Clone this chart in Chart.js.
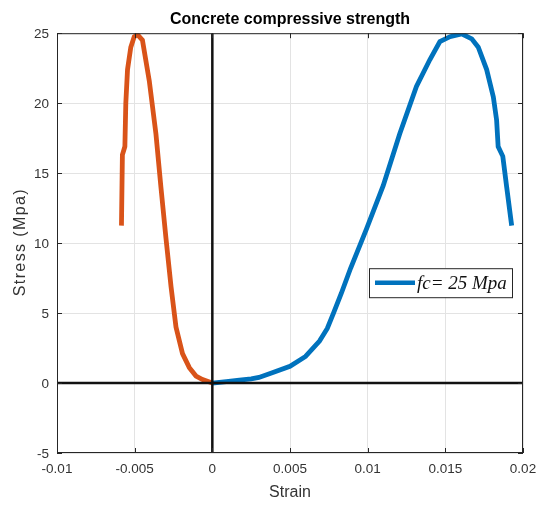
<!DOCTYPE html>
<html>
<head>
<meta charset="utf-8">
<script src="https://cdn.jsdelivr.net/npm/chart.js@4.4.0/dist/chart.umd.min.js"></script>
<style>
  body { margin: 0; background: #fff; }
  #wrap { width: 547px; height: 508px; }
</style>
</head>
<body>
<div id="wrap"><canvas id="stress" width="547" height="508"></canvas></div>
<script>
// tension side (orange)
const strainT = [-0.00585, -0.00579, -0.00563, -0.00557, -0.00546, -0.00525, -0.00503, -0.00482, -0.0045,
                 -0.00406, -0.00363, -0.00331, -0.00299, -0.00266, -0.00234, -0.00192, -0.00148, -0.00105, -0.00063, 0];
const stressT = [11.25, 16.3, 16.9, 20.0, 22.4, 24.0, 24.75, 24.9, 24.5,
                 21.6, 17.8, 14.0, 10.4, 6.9, 4.0, 2.1, 1.1, 0.5, 0.25, 0];

// compression side (blue)
const strainC = [0, 0.0009, 0.00174, 0.0025, 0.003, 0.0039, 0.005, 0.006, 0.0069, 0.0074, 0.0078, 0.0083,
                 0.0089, 0.00992, 0.011, 0.01206, 0.01314, 0.014, 0.01465, 0.0153, 0.01605, 0.0167,
                 0.01712, 0.01766, 0.01809, 0.0183, 0.0184, 0.0187, 0.01895, 0.01927];
const stressC = [0, 0.1, 0.2, 0.3, 0.4, 0.75, 1.2, 1.9, 3.0, 3.9, 5.0, 6.4,
                 8.2, 11.0, 14.1, 17.8, 21.2, 23.1, 24.4, 24.75, 24.95, 24.6,
                 24.0, 22.4, 20.45, 18.8, 16.9, 16.2, 14.0, 11.25];

const zeroLineX = [-0.01, 0.02];
const zeroLineY = [-5, 25];
const xTicks = [-0.01, -0.005, 0, 0.005, 0.01, 0.015, 0.02];
const yTicks = [-5, 0, 5, 10, 15, 20, 25];

const pts = (xs, ys) => xs.map((x, i) => ({ x: x, y: ys[i] }));

const tickColor = '#333';
const sans = '"Liberation Sans", Arial, sans-serif';
const tickFont = { family: sans, size: 13.5 };

// center the title over the plot area, not the whole canvas
const titlePlugin = {
    id: 'titleOverPlot',
    afterLayout(chart) {
        if (chart.titleBlock) {
            chart.titleBlock.left = chart.chartArea.left;
            chart.titleBlock.right = chart.chartArea.right;
        }
    }
};

// MATLAB-ish box with inward ticks on all sides
const boxPlugin = {
    id: 'box',
    afterDatasetsDraw(chart) {
        const { ctx, chartArea: a, scales } = chart;
        ctx.save();
        ctx.strokeStyle = '#262626';
        ctx.lineWidth = 1;
        ctx.strokeRect(a.left + 0.5, a.top + 0.5, a.right - a.left - 1, a.bottom - a.top - 1);
        const len = 5;
        ctx.beginPath();
        xTicks.forEach(v => {
            const px = Math.round(scales.x.getPixelForValue(v)) + 0.5;
            ctx.moveTo(px, a.bottom); ctx.lineTo(px, a.bottom - len);
            ctx.moveTo(px, a.top); ctx.lineTo(px, a.top + len);
        });
        yTicks.forEach(v => {
            const py = Math.round(scales.y.getPixelForValue(v)) + 0.5;
            ctx.moveTo(a.left, py); ctx.lineTo(a.left + len, py);
            ctx.moveTo(a.right, py); ctx.lineTo(a.right - len, py);
        });
        ctx.stroke();
        ctx.restore();
    }
};

// y axis title, drawn by hand so it can be spaced out like the original
const yTitlePlugin = {
    id: 'yTitle',
    afterDraw(chart) {
        const { ctx, chartArea: a } = chart;
        ctx.save();
        ctx.translate(21, (a.top + a.bottom) / 2 - 1);
        ctx.rotate(-Math.PI / 2);
        ctx.font = '16px ' + sans;
        ctx.letterSpacing = '1.4px';
        ctx.fillStyle = tickColor;
        ctx.textAlign = 'center';
        ctx.textBaseline = 'middle';
        ctx.fillText('Stress (Mpa)', 0, 0);
        ctx.restore();
    }
};

// legend box inside the plot, only the blue curve
const legendPlugin = {
    id: 'insideLegend',
    afterDraw(chart) {
        const { ctx, chartArea: a } = chart;
        const ds = chart.data.datasets[0];
        const x0 = a.right - 154, y0 = a.top + 235, w = 143, h = 29;
        ctx.save();
        ctx.fillStyle = '#fff';
        ctx.fillRect(x0, y0, w, h);
        ctx.strokeStyle = '#262626';
        ctx.lineWidth = 1;
        ctx.strokeRect(x0 + 0.5, y0 + 0.5, w, h);
        ctx.strokeStyle = ds.borderColor;
        ctx.lineWidth = 4.5;
        ctx.beginPath();
        ctx.moveTo(x0 + 6, y0 + h / 2);
        ctx.lineTo(x0 + 46, y0 + h / 2);
        ctx.stroke();
        ctx.fillStyle = '#111';
        ctx.font = 'italic 19px "Liberation Serif", "Times New Roman", serif';
        ctx.textBaseline = 'middle';
        ctx.fillText(ds.label, x0 + 48, y0 + h / 2 + 1);
        ctx.restore();
    }
};

new Chart(document.getElementById('stress'), {
    type: 'line',
    data: {
        datasets: [
            {
                label: 'fc= 25 Mpa',
                data: pts(strainC, stressC),
                borderColor: '#0072BD',
                borderWidth: 4.8,
                pointRadius: 0,
                tension: 0,
                order: 2
            },
            {
                label: 'tension',
                data: pts(strainT, stressT),
                borderColor: '#D95319',
                borderWidth: 4.8,
                pointRadius: 0,
                tension: 0,
                order: 2
            },
            {
                label: 'x axis',
                data: pts(zeroLineX, [0, 0]),
                borderColor: '#111',
                borderWidth: 2.5,
                pointRadius: 0,
                order: 1
            },
            {
                label: 'y axis',
                data: pts([0, 0], zeroLineY),
                borderColor: '#111',
                borderWidth: 2.5,
                pointRadius: 0,
                order: 1
            }
        ]
    },
    options: {
        responsive: false,
        animation: false,
        layout: { padding: { left: 0, right: 24, top: 0, bottom: 0 } },
        plugins: {
            legend: { display: false },
            tooltip: { enabled: false },
            title: {
                display: true,
                text: 'Concrete compressive strength',
                color: '#000',
                font: { family: sans, size: 16, weight: 'bold' },
                padding: { top: 10, bottom: 4 }
            }
        },
        scales: {
            x: {
                type: 'linear',
                min: -0.01,
                max: 0.02,
                afterBuildTicks: s => { s.ticks = xTicks.map(v => ({ value: v })); },
                afterFit: s => { s.height = 55; },
                grid: { color: '#e3e3e3', drawTicks: false },
                border: { display: false },
                ticks: {
                    color: tickColor,
                    padding: 8,
                    font: tickFont,
                    callback: v => String(Number(v.toFixed(3)))
                },
                title: {
                    display: true,
                    text: 'Strain',
                    color: tickColor,
                    font: { family: sans, size: 16 },
                    padding: { top: 0, bottom: 5.5 }
                }
            },
            y: {
                min: -5,
                max: 25,
                afterBuildTicks: s => { s.ticks = yTicks.map(v => ({ value: v })); },
                afterFit: s => { s.width = 57; },
                grid: { color: '#e3e3e3', drawTicks: false },
                border: { display: false },
                ticks: {
                    color: tickColor,
                    padding: 8,
                    labelOffset: 1.5,
                    font: tickFont
                }
            }
        }
    },
    plugins: [titlePlugin, boxPlugin, yTitlePlugin, legendPlugin]
});
</script>
</body>
</html>
